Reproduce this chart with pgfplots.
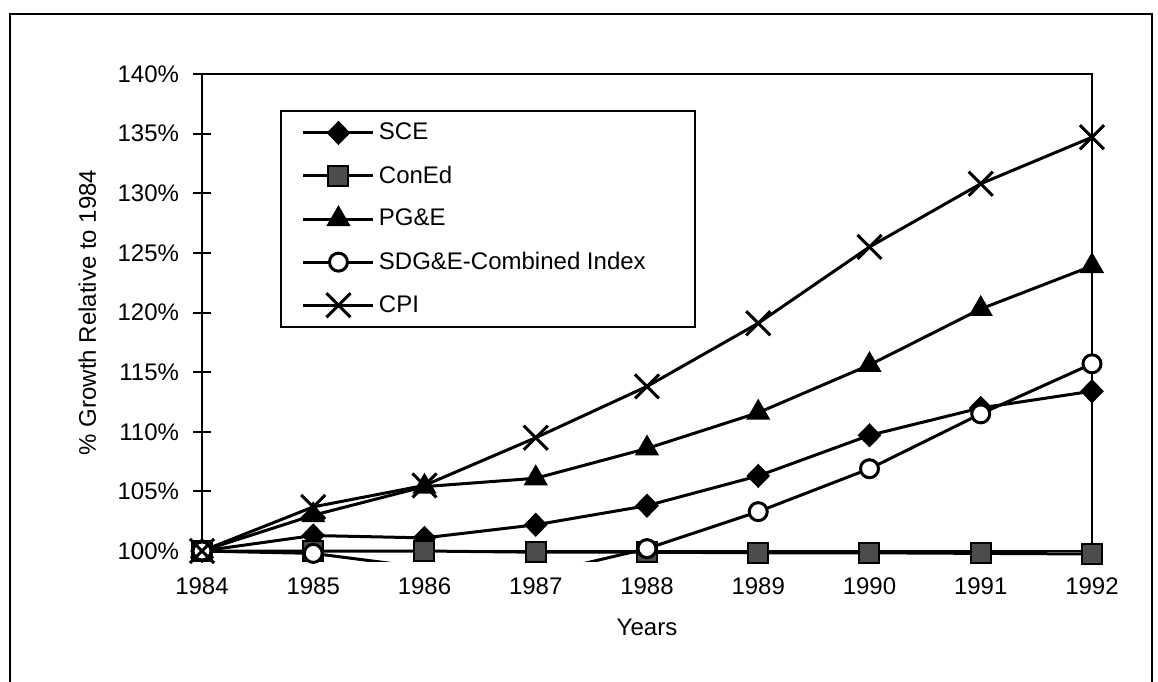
\documentclass[border=0pt]{standalone}
\usepackage{fontspec}
\setmainfont{Liberation Sans}
\usepackage{pgfplots}
\pgfplotsset{compat=1.18}
\begin{document}
\begin{tikzpicture}
\useasboundingbox (0,0) rectangle (579pt,-340.5pt);
\draw[line width=1pt] (5pt,-345pt) -- (5pt,-7pt) -- (576pt,-7pt) -- (576pt,-345pt);
\begin{axis}[
  at={(101pt,-275.5pt)}, anchor=south west,
  scale only axis, width=445pt, height=238.5pt,
  xmin=1984, xmax=1992, ymin=100, ymax=140,
  clip=false,
  xtick={1984,1985,1986,1987,1988,1989,1990,1991,1992},
  xticklabels={1984,1985,1986,1987,1988,1989,1990,1991,1992},
  ytick={100,105,110,115,120,125,130,135,140},
  yticklabels={100\%,105\%,110\%,115\%,120\%,125\%,130\%,135\%,140\%},
  ytick pos=left, xtick pos=bottom,
  xtick style={draw=none},
  ytick style={line width=1pt, black},
  tick align=center, major tick length=9pt,
  axis line style={line width=1pt},
  tick label style={font=\fontsize{12}{14}\selectfont},
  xticklabel style={yshift=-5.5pt},
  yticklabel style={xshift=-3.5pt},
  label style={font=\fontsize{12}{14}\selectfont},
  xlabel={Years},
  xlabel style={at={(axis description cs:0.5,-0.161)}, anchor=center},
  ylabel={\% Growth Relative to 1984},
  ylabel style={at={(axis description cs:-0.129,0.5)}, anchor=center},
  legend style={at={(0.0876,0.9245)}, anchor=north west, draw=black, line width=1pt,
    font=\fontsize{12}{14}\selectfont, row sep=7.5pt, inner sep=4pt},
  legend cell align=left,
  legend image code/.code={\path (-6.5pt,0pt); \draw[mark repeat=2,mark phase=2] plot coordinates {(0pt,0pt)(17.5pt,0pt)(35pt,0pt)};},
  every axis plot/.append style={line width=1.5pt, black},
]
\addplot[mark=diamond*, mark size=5pt, mark options={xscale=1.3, fill=black}]
  coordinates {(1984,100)(1985,101.3)(1986,101.1)(1987,102.2)(1988,103.8)(1989,106.3)(1990,109.7)(1991,112.0)(1992,113.4)};
\addlegendentry{SCE}
\addplot[mark=square*, mark size=5pt, mark options={fill=black!70, draw=black, line width=1pt}]
  coordinates {(1984,100)(1985,100)(1986,100)(1987,99.9)(1988,99.9)(1989,99.85)(1990,99.85)(1991,99.8)(1992,99.75)};
\addlegendentry{ConEd}
\addplot[mark=triangle*, mark size=5.5pt, mark options={fill=black}]
  coordinates {(1984,100)(1985,103.0)(1986,105.4)(1987,106.1)(1988,108.6)(1989,111.6)(1990,115.6)(1991,120.3)(1992,123.9)};
\addlegendentry{PG\&E}
\begin{scope}
\clip (rel axis cs:-0.05,-0.021) rectangle (rel axis cs:1.05,1.05);
\addplot[mark=*, mark size=4.5pt, mark options={fill=white, line width=1.5pt}, mark indices={1,2,5,6,7,8,9},
  legend image code/.code={\path (-6.5pt,0pt); \draw[mark indices={2}] plot coordinates {(0pt,0pt)(17.5pt,0pt)(35pt,0pt)};}]
  coordinates {(1984,100)(1985,99.8)(1986,98.6)(1987,98.0)(1988,100.2)(1989,103.3)(1990,106.9)(1991,111.5)(1992,115.7)};
\addlegendentry{\makebox[152pt][l]{SDG\&E-Combined Index}}
\end{scope}
\addplot[mark=x, mark size=8.5pt, mark options={line width=1.5pt}]
  coordinates {(1984,100)(1985,103.7)(1986,105.5)(1987,109.5)(1988,113.8)(1989,119.1)(1990,125.5)(1991,130.8)(1992,134.7)};
\addlegendentry{CPI}
\end{axis}
\end{tikzpicture}
\end{document}
